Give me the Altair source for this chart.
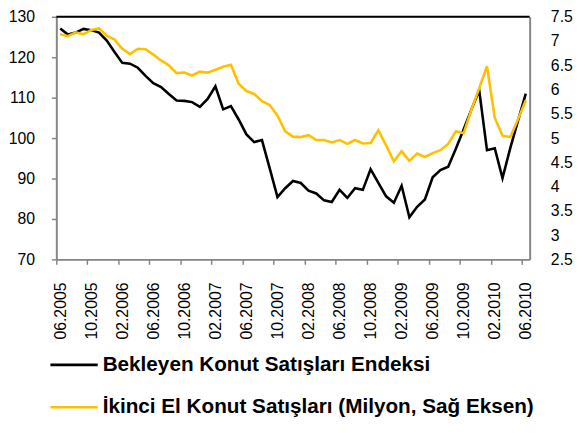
import json
import altair as alt
import pandas as pd

# ---- data -------------------------------------------------------------
TICK_LABELS = ["06.2005", "10.2005", "02.2006", "06.2006", "10.2006", "02.2007",
               "06.2007", "10.2007", "02.2008", "06.2008", "10.2008", "02.2009",
               "06.2009", "10.2009", "02.2010", "06.2010"]

BEKLEYEN = [127.1, 125.6, 126.1, 127.0, 126.7, 126.1, 124.1, 121.3, 118.6, 118.4,
            117.4, 115.4, 113.6, 112.6, 110.9, 109.3, 109.2, 108.9, 107.7, 109.7,
            112.8, 107.1, 107.9, 104.6, 100.9, 99.0, 99.5, 92.5, 85.4, 87.6,
            89.4, 88.9, 87.0, 86.3, 84.6, 84.2, 87.2, 85.2, 87.6, 87.2,
            92.3, 88.9, 85.6, 84.0, 88.2, 80.4, 83.0, 84.8, 90.3, 92.1,
            92.9, 97.4, 102.2, 107.1, 111.8, 97.0, 97.5, 90.1, 97.5, 104.3,
            111.0]

IKINCI_EL = [7.14, 7.10, 7.18, 7.14, 7.23, 7.26, 7.11, 7.03, 6.84, 6.73,
             6.84, 6.83, 6.72, 6.60, 6.50, 6.34, 6.35, 6.29, 6.37, 6.35,
             6.41, 6.47, 6.51, 6.12, 5.97, 5.91, 5.76, 5.68, 5.46, 5.14,
             5.03, 5.02, 5.06, 4.96, 4.96, 4.91, 4.96, 4.88, 4.96, 4.89,
             4.90, 5.16, 4.85, 4.52, 4.73, 4.53, 4.68, 4.61, 4.69, 4.75,
             4.88, 5.14, 5.10, 5.59, 6.03, 6.48, 5.42, 5.05, 5.02, 5.39,
             5.78]

SERIES = ["Bekleyen Konut Satışları Endeksi",
          "İkinci El Konut Satışları (Milyon, Sağ Eksen)"]
COLORS = ["#000000", "#FFC000"]

df = pd.DataFrame({"idx": list(range(len(BEKLEYEN))),
                   "bekleyen": BEKLEYEN,
                   "ikinci": IKINCI_EL})

W, H = 480, 246
TOP = 6
FONT = "Liberation Sans"
AXIS_GRAY = "#868686"
step_px = W / len(BEKLEYEN)

x_enc = alt.X(
    "idx:Q",
    scale=alt.Scale(domain=[-0.5, len(BEKLEYEN) - 0.5], nice=False, zero=False),
    axis=alt.Axis(
        values=list(range(0, len(BEKLEYEN), 4)),
        labelExpr=json.dumps(TICK_LABELS) + "[round(datum.value/4)]",
        labelAngle=270, labelAlign="right", labelBaseline="middle",
        labelFont=FONT, labelFontSize=16, labelColor="#000000",
        labelPadding=18, tickSize=5, tickColor=AXIS_GRAY, tickWidth=1.5,
        tickOffset=-step_px / 2, labelOffset=step_px / 2,
        domainColor=AXIS_GRAY, domainWidth=2, grid=False, title=None,
        labelOverlap=False,
    ),
)

black = alt.Chart(df).mark_line(color=COLORS[0], strokeWidth=2.6).encode(
    x=x_enc,
    y=alt.Y("bekleyen:Q",
            scale=alt.Scale(domain=[70, 130], nice=False, zero=False),
            axis=alt.Axis(orient="left", values=list(range(70, 131, 10)),
                          labelFont=FONT, labelFontSize=16, labelColor="#000000",
                          labelPadding=17, tickSize=5, tickColor=AXIS_GRAY,
                          tickWidth=1.5, domainColor=AXIS_GRAY, domainWidth=2,
                          grid=False, title=None)),
)

yellow = alt.Chart(df).mark_line(color=COLORS[1], strokeWidth=2.6).encode(
    x=x_enc,
    y=alt.Y("ikinci:Q",
            scale=alt.Scale(domain=[2.5, 7.5], nice=False, zero=False),
            axis=alt.Axis(orient="right", values=[2.5 + 0.5 * k for k in range(11)],
                          labelExpr="'' + datum.value",
                          labelFont=FONT, labelFontSize=16, labelColor="#000000",
                          labelPadding=21, ticks=False,
                          domainColor=AXIS_GRAY, domainWidth=2,
                          grid=False, title=None)),
)

top_line = alt.Chart(pd.DataFrame({"a": [0]})).mark_rule(
    color="#000000", strokeWidth=2).encode(
    x=alt.value(0), x2=alt.value(W), y=alt.value(0))

leg_df = pd.DataFrame({"name": SERIES, "color": COLORS,
                       "ypos": [367 - 8 - TOP, 410 - 8 - TOP]})
leg_lines = alt.Chart(leg_df).mark_rule(strokeWidth=2.6).encode(
    x=alt.value(-6), x2=alt.value(42),
    y=alt.Y("ypos:Q", scale=None),
    color=alt.Color("color:N", scale=None, legend=None),
)
leg_text = alt.Chart(leg_df).mark_text(
    align="left", baseline="middle", font=FONT, fontSize=21,
    fontWeight="bold", color="#000000").encode(
    x=alt.value(47),
    y=alt.Y("ypos:Q", scale=None),
    text="name:N",
)

chart = alt.layer(black, yellow, top_line, leg_lines, leg_text).resolve_scale(
    y="independent"
).properties(
    width=W, height=H,
    padding={"left": 49, "top": TOP, "right": 48, "bottom": 163},
    autosize=alt.AutoSizeParams(type="none"),
).configure_view(stroke=None).configure(background="#ffffff")

chart.save("out.html", embed_options={"renderer": "svg", "actions": False})
